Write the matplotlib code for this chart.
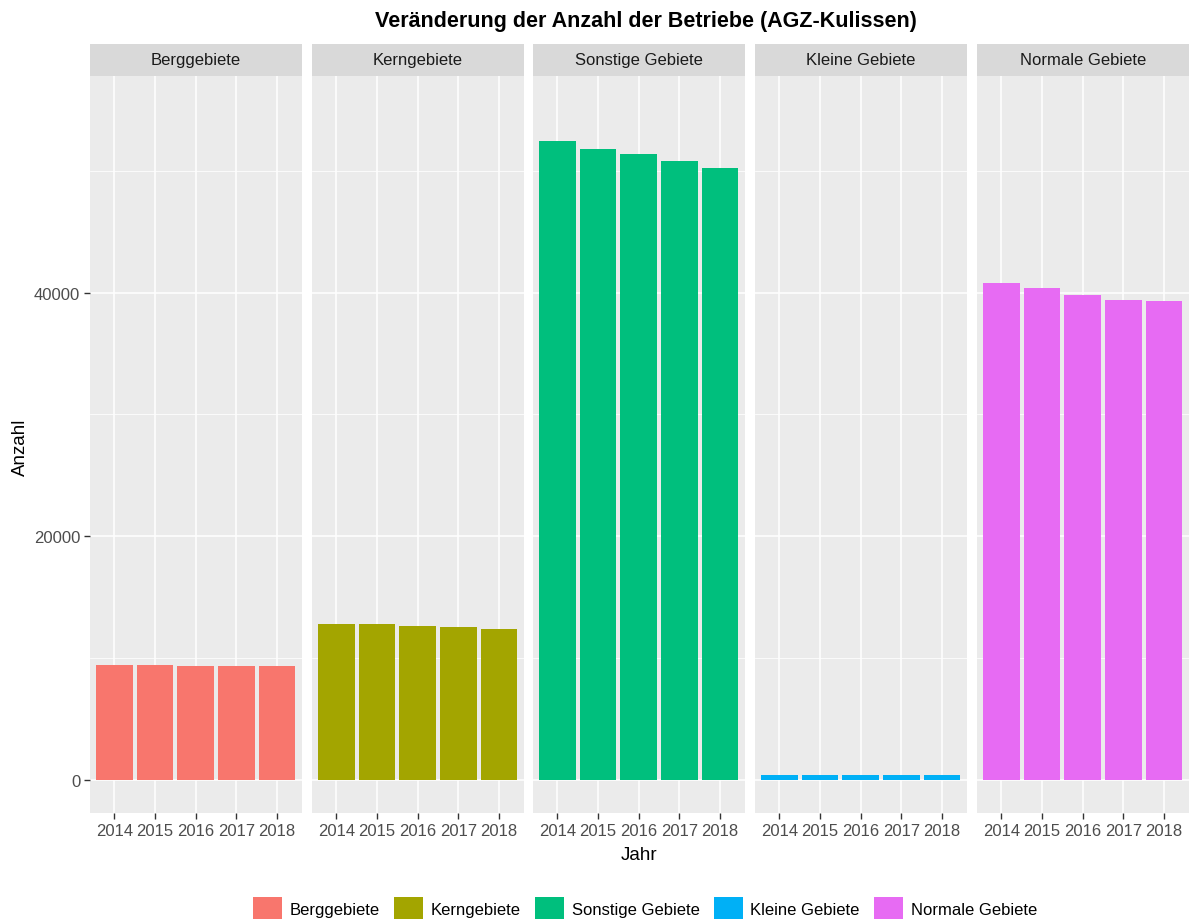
# -*- coding: utf-8 -*-

import matplotlib
matplotlib.use('Agg')
from matplotlib import pyplot as plt
from matplotlib.patches import Patch

plt.rcParams['font.family'] = ['Liberation Sans', 'DejaVu Sans']

# Daten
jahre = ['2014', '2015', '2016', '2017', '2018']
gebiete = ['Berggebiete', 'Kerngebiete', 'Sonstige Gebiete', 'Kleine Gebiete', 'Normale Gebiete']
berggebiete = [9420, 9410, 9330, 9320, 9320]
kerngebiete = [12770, 12770, 12660, 12550, 12420]
sonstige_gebiete = [52470, 51820, 51380, 50830, 50200]
kleine_gebiete = [430, 425, 420, 415, 410]
normale_gebiete = [40780, 40370, 39820, 39390, 39280]
farben = ['#F8766D', '#A3A500', '#00BF7D', '#00B0F6', '#E76BF3']

werte = [berggebiete, kerngebiete, sonstige_gebiete, kleine_gebiete, normale_gebiete]

W, H = 1189, 920
fig = plt.figure(figsize=(W / 100, H / 100), dpi=100)

# Panel-Geometrie in Pixel
panel_links = [90, 312, 533, 755, 977]
panel_breite = 211.5
panel_oben = 77
panel_unten = 814
strip_oben = 44.5


def px_box(x0, y0, x1, y1):
    return [x0 / W, 1 - y1 / H, (x1 - x0) / W, (y1 - y0) / H]


for i, (name, vals, farbe) in enumerate(zip(gebiete, werte, farben)):
    x0 = panel_links[i]
    ax = fig.add_axes(px_box(x0, panel_oben, x0 + panel_breite, panel_unten))
    ax.set_facecolor('#EBEBEB')
    pos = list(range(1, len(jahre) + 1))
    ax.bar(pos, vals, width=0.9, color=farbe, zorder=3)
    ax.set_xlim(0.4, 5.6)
    ax.set_ylim(-2710, 57780)
    ax.set_xticks(pos)
    ax.set_xticklabels(jahre)
    ax.set_yticks([0, 20000, 40000])
    ax.set_yticks([10000, 30000, 50000], minor=True)
    ax.grid(True, which='major', color='white', linewidth=1.1, zorder=0)
    ax.grid(True, which='minor', axis='y', color='white', linewidth=0.55, zorder=0)
    for s in ax.spines.values():
        s.set_visible(False)
    ax.tick_params(axis='x', length=4, width=1, color='#333333', labelsize=12,
                   labelcolor='#4D4D4D', pad=3)
    ax.tick_params(axis='y', which='major', length=4, width=1, color='#333333', labelsize=12,
                   labelcolor='#4D4D4D', pad=3)
    ax.tick_params(axis='y', which='minor', length=0)
    if i > 0:
        ax.tick_params(axis='y', which='major', length=0, labelleft=False)
    ax.set_axisbelow(True)

    # Streifen mit Facettentitel
    sax = fig.add_axes(px_box(x0, strip_oben, x0 + panel_breite, panel_oben))
    sax.set_facecolor('#D9D9D9')
    sax.set_xticks([])
    sax.set_yticks([])
    for s in sax.spines.values():
        s.set_visible(False)
    sax.text(0.5, 0.5, name, ha='center', va='center', fontsize=12,
             color='#1A1A1A', transform=sax.transAxes)

fig.text(0.543, 1 - 22 / H, 'Veränderung der Anzahl der Betriebe (AGZ-Kulissen)',
         ha='center', va='center', fontsize=15.5, fontweight='bold', color='black')
fig.text(20 / W, 1 - 447 / H, 'Anzahl', rotation=90, ha='center', va='center',
         fontsize=13.5, color='black')
fig.text(639 / W, 1 - 856 / H, 'Jahr', ha='center', va='center',
         fontsize=13.5, color='black')

handles = [Patch(facecolor=f, edgecolor='none', label=g) for g, f in zip(gebiete, farben)]
fig.legend(handles=handles, loc='center', bbox_to_anchor=(0.5425, 1 - 910 / H), ncol=5,
           frameon=False, fontsize=12, handlelength=1.75, handleheight=1.9,
           handletextpad=0.45, columnspacing=0.85)

plt.savefig('out.png', dpi=100)
